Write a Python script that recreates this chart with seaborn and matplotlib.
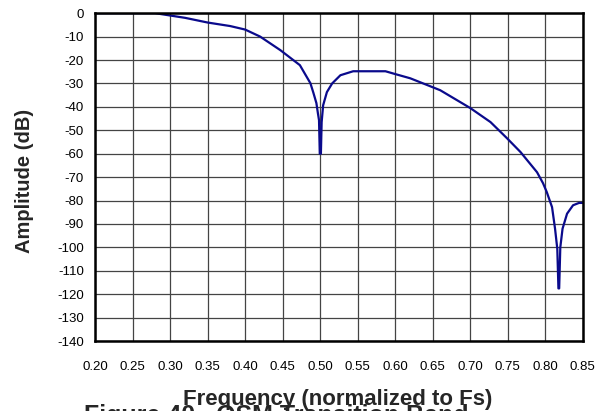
"""
plot.py
QSM transition band amplitude response.
"""

import numpy as np
import pandas as pd
import matplotlib
matplotlib.use("Agg")
import matplotlib.pyplot as plt
import seaborn as sns

# ---------------------------------------------------------------------------
# Data
# ---------------------------------------------------------------------------
freq = [0.200, 0.250, 0.280, 0.300, 0.320, 0.350, 0.380, 0.400, 0.420, 0.447,
        0.473, 0.487, 0.491, 0.495, 0.497, 0.4985, 0.4995, 0.501, 0.502, 0.504,
        0.509, 0.516, 0.527, 0.544, 0.587, 0.600, 0.620, 0.660, 0.700, 0.727,
        0.749, 0.767, 0.789, 0.797, 0.802, 0.809, 0.813, 0.816, 0.8175, 0.8185,
        0.820, 0.823, 0.829, 0.837, 0.845, 0.850]
amp_db = [0.0, 0.0, 0.0, -1.0, -2.0, -4.0, -5.5, -7.0, -10.0, -15.8,
          -22.2, -29.9, -34.0, -38.4, -42.7, -45.7, -60.0, -60.0, -46.5, -39.3,
          -33.7, -30.0, -26.5, -24.8, -24.8, -26.0, -27.8, -32.9, -40.5, -46.5,
          -53.4, -59.3, -67.9, -72.6, -76.4, -82.8, -92.0, -100.6, -117.5, -117.5,
          -100.0, -92.0, -85.6, -82.0, -81.0, -81.0]

x_ticks = [0.20, 0.25, 0.30, 0.35, 0.40, 0.45, 0.50, 0.55, 0.60, 0.65, 0.70,
           0.75, 0.80, 0.85]
y_ticks = list(range(0, -141, -10))

# ---------------------------------------------------------------------------
# Style
# ---------------------------------------------------------------------------
sns.set_style("white")
plt.rcParams["font.family"] = ["Liberation Sans", "DejaVu Sans"]

df = pd.DataFrame({"freq": freq, "amp": amp_db})

fig = plt.figure(figsize=(6.09, 4.11), dpi=100)
ax = fig.add_axes([0.156, 0.170, 0.801, 0.798])

sns.lineplot(data=df, x="freq", y="amp", ax=ax, color="#0a0a8c",
             linewidth=1.6, sort=False)

ax.set_xlim(0.20, 0.85)
ax.set_ylim(-140, 0)
ax.set_xticks(x_ticks)
ax.set_xticklabels([f"{t:.2f}" for t in x_ticks])
ax.set_yticks(y_ticks)
ax.set_yticklabels([str(t) for t in y_ticks])
ax.tick_params(axis="both", direction="out", length=4, width=1,
               colors="black", labelsize=9.5, pad=4)
ax.tick_params(axis="x", pad=10)

ax.grid(True, color="#444444", linewidth=0.9)
ax.set_axisbelow(True)
for side in ["left", "bottom", "right", "top"]:
    ax.spines[side].set_visible(True)
    ax.spines[side].set_color("black")
    ax.spines[side].set_linewidth(1.8)

ax.set_xlabel("")
ax.set_ylabel("")
fig.text(0.041, 0.56, "Amplitude (dB)", rotation=90, ha="center",
         va="center", fontsize=14.5, fontweight="bold")
fig.text(0.555, 0.0146, "Frequency (normalized to Fs)", ha="center",
         va="baseline", fontsize=16, fontweight="bold")
fig.text(0.453, -0.029, "Figure 40.  QSM Transition Band", ha="center",
         va="baseline", fontsize=18, fontweight="bold")

fig.savefig("out.png", dpi=100)
plt.close(fig)
